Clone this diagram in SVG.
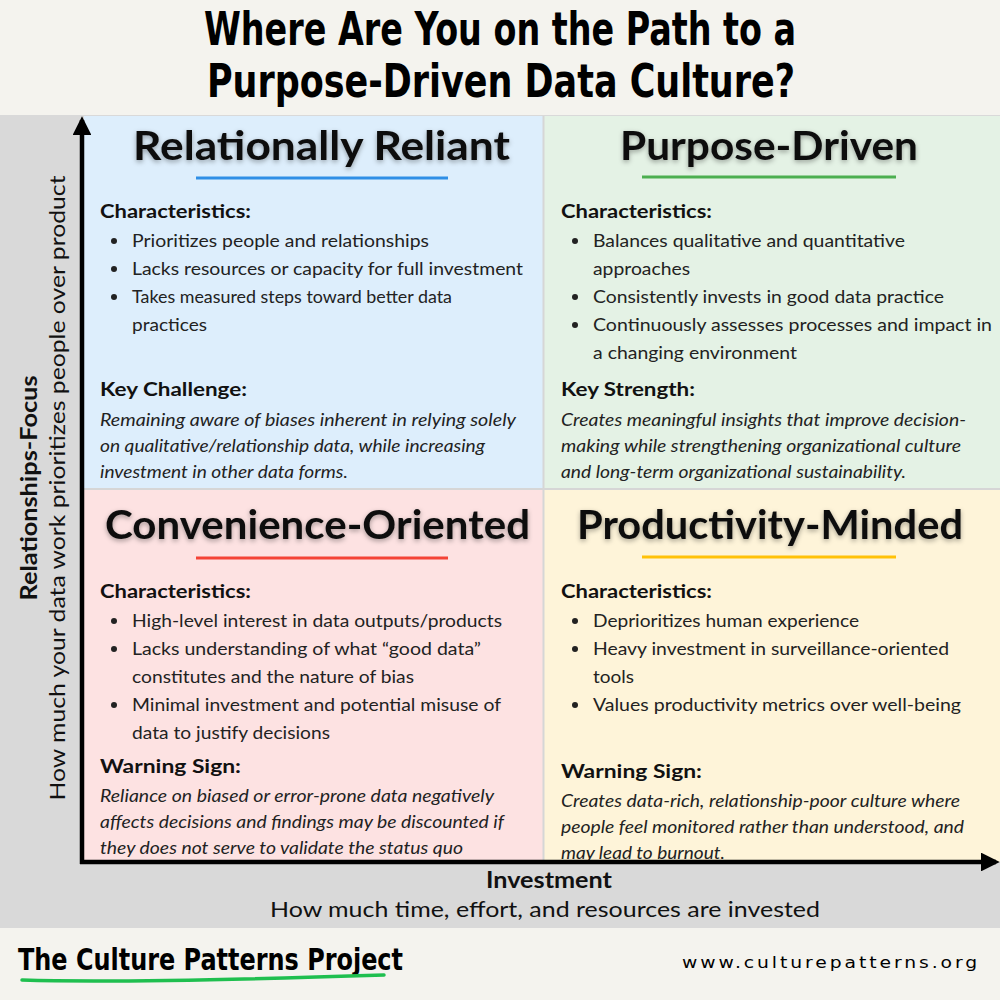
<svg xmlns="http://www.w3.org/2000/svg" width="1000" height="1000" viewBox="0 0 1000 1000">
<style>
.title{font-family:"DejaVu Sans Condensed","DejaVu Sans",sans-serif;font-weight:bold;font-size:46px;fill:#000;}
.brand{font-family:"DejaVu Sans Condensed","DejaVu Sans",sans-serif;font-weight:bold;font-size:31px;fill:#000;}
.url{font-family:"DejaVu Sans",sans-serif;font-size:16px;fill:#000;letter-spacing:2.5px;}
.head{font-family:Lato,"Noto Sans",sans-serif;font-weight:bold;font-size:40px;fill:#111;}
.sub{font-family:Lato,"Noto Sans",sans-serif;font-weight:bold;font-size:19px;fill:#111;}
.li{font-family:Lato,"Noto Sans",sans-serif;font-size:18px;fill:#222;}
.it{font-family:Lato,"Noto Sans",sans-serif;font-style:italic;font-size:17px;fill:#222;}
.ax{font-family:Lato,"Noto Sans",sans-serif;font-size:22px;fill:#111;}
.axb{font-family:Lato,"Noto Sans",sans-serif;font-weight:bold;font-size:22px;fill:#111;}
.dot{fill:#222;}
.sep{stroke:#d6d6d6;stroke-width:2;}
</style>
<defs>
<filter id="sh" x="-10%" y="-30%" width="120%" height="170%">
<feDropShadow dx="0" dy="2" stdDeviation="2.5" flood-color="#000" flood-opacity="0.35"/>
</filter>
<marker id="ah" viewBox="0 0 10 10" refX="8" refY="5" markerWidth="4.2" markerHeight="4.2" orient="auto" markerUnits="strokeWidth">
<path d="M0,0 L10,5 L0,10 Z" fill="#000"/>
</marker>
</defs>

<!-- backgrounds -->
<rect x="0" y="0" width="1000" height="1000" fill="#f4f3ee"/>
<rect x="0" y="115" width="1000" height="813" fill="#d9d9d9"/>

<g id="title">
<text class="title" x="500" y="45" text-anchor="middle" textLength="592" lengthAdjust="spacingAndGlyphs">Where Are You on the Path to a</text>
<text class="title" x="501" y="97" text-anchor="middle" textLength="588" lengthAdjust="spacingAndGlyphs">Purpose-Driven Data Culture?</text>
</g>

<!-- Quadrant: Relationally Reliant -->
<g id="q-relationally-reliant">
<rect x="84" y="116" width="459" height="373" fill="#ddeefc"/>
<text class="head" x="133" y="160" filter="url(#sh)" textLength="377" lengthAdjust="spacingAndGlyphs">Relationally Reliant</text>
<line x1="196" y1="178" x2="448" y2="178" stroke="#2f8fe6" stroke-width="3"/>
<text class="sub" x="100" y="218" textLength="151" lengthAdjust="spacingAndGlyphs">Characteristics:</text>
<circle class="dot" cx="114" cy="241" r="3"/>
<text class="li" x="132" y="247" textLength="297" lengthAdjust="spacingAndGlyphs">Prioritizes people and relationships</text>
<circle class="dot" cx="114" cy="269" r="3"/>
<text class="li" x="132" y="275" textLength="391" lengthAdjust="spacingAndGlyphs">Lacks resources or capacity for full investment</text>
<circle class="dot" cx="114" cy="297" r="3"/>
<text class="li" x="132" y="303" textLength="320" lengthAdjust="spacingAndGlyphs">Takes measured steps toward better data</text>
<text class="li" x="132" y="331" textLength="75" lengthAdjust="spacingAndGlyphs">practices</text>
<text class="sub" x="100" y="396" textLength="147" lengthAdjust="spacingAndGlyphs">Key Challenge:</text>
<text class="it" x="100" y="426" textLength="416" lengthAdjust="spacingAndGlyphs">Remaining aware of biases inherent in relying solely</text>
<text class="it" x="100" y="452" textLength="385" lengthAdjust="spacingAndGlyphs">on qualitative/relationship data, while increasing</text>
<text class="it" x="100" y="478" textLength="248" lengthAdjust="spacingAndGlyphs">investment in other data forms.</text>
</g>

<!-- Quadrant: Purpose-Driven -->
<g id="q-purpose-driven">
<rect x="544" y="116" width="456" height="373" fill="#e4f2e5"/>
<text class="head" x="620" y="160" filter="url(#sh)" textLength="298" lengthAdjust="spacingAndGlyphs">Purpose-Driven</text>
<line x1="642" y1="177" x2="896" y2="177" stroke="#4caf50" stroke-width="3"/>
<text class="sub" x="561" y="218" textLength="151" lengthAdjust="spacingAndGlyphs">Characteristics:</text>
<circle class="dot" cx="575" cy="241" r="3"/>
<text class="li" x="593" y="247" textLength="312" lengthAdjust="spacingAndGlyphs">Balances qualitative and quantitative</text>
<text class="li" x="593" y="275" textLength="97" lengthAdjust="spacingAndGlyphs">approaches</text>
<circle class="dot" cx="575" cy="297" r="3"/>
<text class="li" x="593" y="303" textLength="351" lengthAdjust="spacingAndGlyphs">Consistently invests in good data practice</text>
<circle class="dot" cx="575" cy="325" r="3"/>
<text class="li" x="593" y="331" textLength="399" lengthAdjust="spacingAndGlyphs">Continuously assesses processes and impact in</text>
<text class="li" x="593" y="359" textLength="204" lengthAdjust="spacingAndGlyphs">a changing environment</text>
<text class="sub" x="561" y="396" textLength="134" lengthAdjust="spacingAndGlyphs">Key Strength:</text>
<text class="it" x="561" y="426" textLength="405" lengthAdjust="spacingAndGlyphs">Creates meaningful insights that improve decision-</text>
<text class="it" x="561" y="452" textLength="400" lengthAdjust="spacingAndGlyphs">making while strengthening organizational culture</text>
<text class="it" x="561" y="478" textLength="345" lengthAdjust="spacingAndGlyphs">and long-term organizational sustainability.</text>
</g>

<!-- Quadrant: Convenience-Oriented -->
<g id="q-convenience-oriented">
<rect x="84" y="490" width="459" height="372" fill="#fde2e2"/>
<text class="head" x="105" y="539" filter="url(#sh)" textLength="425" lengthAdjust="spacingAndGlyphs">Convenience-Oriented</text>
<line x1="196" y1="558" x2="448" y2="558" stroke="#f44336" stroke-width="3"/>
<text class="sub" x="100" y="598" textLength="151" lengthAdjust="spacingAndGlyphs">Characteristics:</text>
<circle class="dot" cx="114" cy="621" r="3"/>
<text class="li" x="132" y="627" textLength="370" lengthAdjust="spacingAndGlyphs">High-level interest in data outputs/products</text>
<circle class="dot" cx="114" cy="649" r="3"/>
<text class="li" x="132" y="655" textLength="349" lengthAdjust="spacingAndGlyphs">Lacks understanding of what “good data”</text>
<text class="li" x="132" y="683" textLength="282" lengthAdjust="spacingAndGlyphs">constitutes and the nature of bias</text>
<circle class="dot" cx="114" cy="705" r="3"/>
<text class="li" x="132" y="711" textLength="369" lengthAdjust="spacingAndGlyphs">Minimal investment and potential misuse of</text>
<text class="li" x="132" y="739" textLength="198" lengthAdjust="spacingAndGlyphs">data to justify decisions</text>
<text class="sub" x="100" y="773" textLength="141" lengthAdjust="spacingAndGlyphs">Warning Sign:</text>
<text class="it" x="100" y="802" textLength="394" lengthAdjust="spacingAndGlyphs">Reliance on biased or error-prone data negatively</text>
<text class="it" x="100" y="828" textLength="404" lengthAdjust="spacingAndGlyphs">affects decisions and findings may be discounted if</text>
<text class="it" x="100" y="854" textLength="363" lengthAdjust="spacingAndGlyphs">they does not serve to validate the status quo</text>
</g>

<!-- Quadrant: Productivity-Minded -->
<g id="q-productivity-minded">
<rect x="544" y="490" width="456" height="372" fill="#fef4d9"/>
<text class="head" x="577" y="539" filter="url(#sh)" textLength="386" lengthAdjust="spacingAndGlyphs">Productivity-Minded</text>
<line x1="642" y1="557" x2="896" y2="557" stroke="#ffc107" stroke-width="3"/>
<text class="sub" x="561" y="598" textLength="151" lengthAdjust="spacingAndGlyphs">Characteristics:</text>
<circle class="dot" cx="575" cy="621" r="3"/>
<text class="li" x="593" y="627" textLength="266" lengthAdjust="spacingAndGlyphs">Deprioritizes human experience</text>
<circle class="dot" cx="575" cy="649" r="3"/>
<text class="li" x="593" y="655" textLength="356" lengthAdjust="spacingAndGlyphs">Heavy investment in surveillance-oriented</text>
<text class="li" x="593" y="683" textLength="41" lengthAdjust="spacingAndGlyphs">tools</text>
<circle class="dot" cx="575" cy="705" r="3"/>
<text class="li" x="593" y="711" textLength="368" lengthAdjust="spacingAndGlyphs">Values productivity metrics over well-being</text>
<text class="sub" x="561" y="778" textLength="141" lengthAdjust="spacingAndGlyphs">Warning Sign:</text>
<text class="it" x="561" y="807" textLength="399" lengthAdjust="spacingAndGlyphs">Creates data-rich, relationship-poor culture where</text>
<text class="it" x="561" y="833" textLength="403" lengthAdjust="spacingAndGlyphs">people feel monitored rather than understood, and</text>
<text class="it" x="561" y="859" textLength="164" lengthAdjust="spacingAndGlyphs">may lead to burnout.</text>
</g>

<!-- separators -->
<g id="separators">
<line class="sep" x1="543.5" y1="116" x2="543.5" y2="862"/>
<line class="sep" x1="84" y1="489" x2="1000" y2="489"/>
</g>

<!-- axes -->
<g id="connectors">
<line x1="82" y1="864" x2="82" y2="120" stroke="#000" stroke-width="4.5" marker-end="url(#ah)"/>
<line x1="80" y1="862" x2="996" y2="862" stroke="#000" stroke-width="4.5" marker-end="url(#ah)"/>
</g>

<g id="y-axis-label">
<text class="axb" transform="translate(37,488) rotate(-90)" text-anchor="middle" textLength="225" lengthAdjust="spacingAndGlyphs">Relationships-Focus</text>
<text class="ax" transform="translate(65,488) rotate(-90)" text-anchor="middle" textLength="625" lengthAdjust="spacingAndGlyphs">How much your data work prioritizes people over product</text>
</g>

<g id="x-axis-label">
<text class="axb" x="549" y="888" text-anchor="middle" font-weight="600" textLength="126" lengthAdjust="spacingAndGlyphs">Investment</text>
<text class="ax" x="545" y="917" text-anchor="middle" textLength="550" lengthAdjust="spacingAndGlyphs">How much time, effort, and resources are invested</text>
</g>

<g id="footer">
<text class="brand" x="18" y="970" textLength="385" lengthAdjust="spacingAndGlyphs">The Culture Patterns Project</text>
<path d="M22,980 C120,983 260,979 384,975" fill="none" stroke="#1fbf4f" stroke-width="3.5" stroke-linecap="round"/>
<text class="url" x="980" y="968" text-anchor="end" textLength="298" lengthAdjust="spacingAndGlyphs">www.culturepatterns.org</text>
</g>
</svg>
